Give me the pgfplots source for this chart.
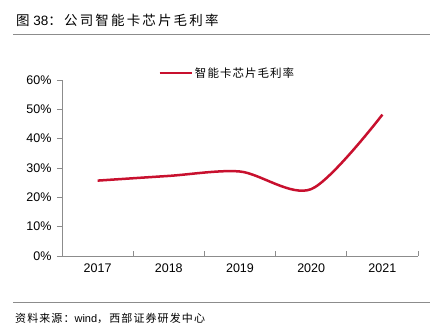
\documentclass[border=0pt]{standalone}
\usepackage{pgfplots}
\pgfplotsset{compat=1.18}
\usepackage{fontspec}
\setmainfont{Liberation Sans}
\newfontfamily\cjk{Noto Sans CJK SC}
\newfontfamily\cjkt[LetterSpace=16]{Noto Sans CJK SC}
\newfontfamily\cjks[LetterSpace=10]{Noto Sans CJK SC}
\newfontfamily\cjkl[LetterSpace=9]{Noto Sans CJK SC}
\definecolor{lred}{HTML}{C8102E}
\definecolor{axgray}{HTML}{8C8C8C}
\begin{document}
\begin{tikzpicture}
\useasboundingbox (0pt,0pt) rectangle (442pt,336pt);
\draw[axgray, line width=1pt] (13pt,301pt) -- (430pt,301pt);
\draw[axgray, line width=1pt] (13pt,33pt) -- (430pt,33pt);
\node[anchor=west, inner sep=0pt, font=\fontsize{13.5}{16}\selectfont] at (16pt,316pt) {{\cjk 图} 38{\cjkt ：公司智能卡芯片毛利率}};
\node[anchor=west, inner sep=0pt, font=\fontsize{11}{13}\selectfont] at (15pt,18pt) {{\cjks 资料来源：}wind{\cjks ，西部证券研发中心}};
\begin{axis}[
  at={(62pt,80pt)}, anchor=south west,
  scale only axis, width=356pt, height=176pt,
  xmin=-0.5, xmax=4.5, ymin=0, ymax=60,
  axis lines*=left,
  axis line style={axgray, line width=0.8pt},
  xtick={-0.5,0.5,...,4.5},
  x tick label as interval,
  xticklabels={2017,2018,2019,2020,2021},
  ytick={0,10,...,60},
  yticklabels={0\%,10\%,20\%,30\%,40\%,50\%,60\%},
  tick style={axgray, line width=0.8pt},
  xtick pos=bottom, ytick pos=left,
  xtick align=inside, ytick align=outside,
  major tick length=5pt,
  tick label style={font=\fontsize{12.5}{14}\selectfont, black},
  yticklabel style={xshift=-2pt},
  xticklabel style={yshift=-4pt},
  legend style={at={(0.262,1.04)}, anchor=west, draw=none, fill=none, font=\cjkl\fontsize{11.5}{13}\selectfont, legend cell align=left},
  legend image code/.code={\draw[#1] (0pt,0pt) -- (32pt,0pt);},
  clip=false,
]
\addplot[lred, line width=2.5pt, smooth] coordinates {(0,25.7) (1,27.3) (2,28.8) (3,22.8) (4,48.2)};
\addlegendentry{智能卡芯片毛利率}
\end{axis}
\end{tikzpicture}
\end{document}
